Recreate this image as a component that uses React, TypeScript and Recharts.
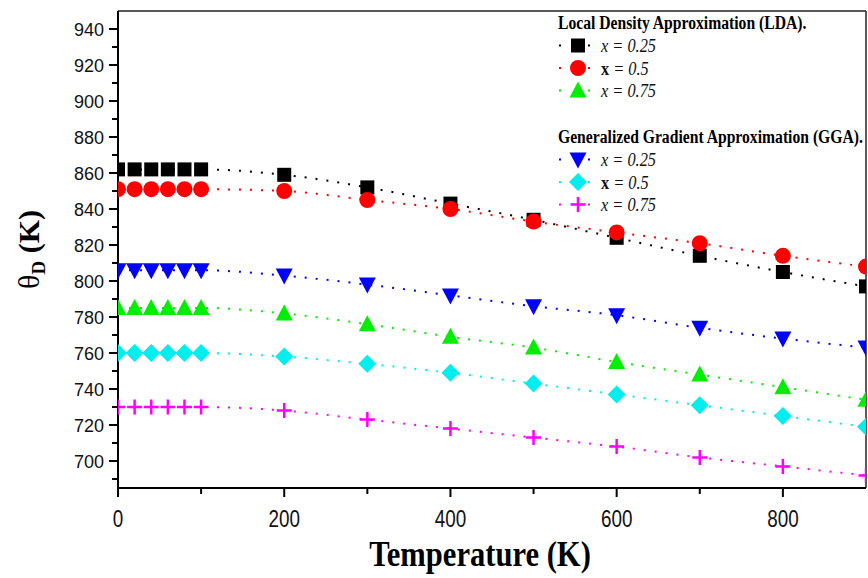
import { Line, LineChart, ReferenceLine, XAxis, YAxis } from "recharts";

const temperature = [0, 20, 40, 60, 80, 100, 200, 300, 400, 500, 600, 700, 800, 900];

// Debye temperature (K), LDA
const ldaX025 = [862, 862, 862, 862, 862, 862, 859, 852, 843, 834, 824, 814, 805, 797];
const ldaX05 = [851, 851, 851, 851, 851, 851, 850, 845, 840, 833, 827, 821, 814, 808];
const ldaX075 = [785, 785, 785, 785, 785, 785, 782, 776, 769, 763, 755, 748, 741, 734];
// Debye temperature (K), GGA
const ggaX025 = [806, 806, 806, 806, 806, 806, 803, 798, 792, 786, 781, 774, 768, 763];
const ggaX05 = [760, 760, 760, 760, 760, 760, 758, 754, 749, 743, 737, 731, 725, 719];
const ggaX075 = [730, 730, 730, 730, 730, 730, 728, 723, 718, 713, 708, 702, 697, 692];

const xMajorTicks = [0, 200, 400, 600, 800];
const xMinorTicks = [100, 300, 500, 700];
const yMajorTicks = [700, 720, 740, 760, 780, 800, 820, 840, 860, 880, 900, 920, 940];
const yMinorTicks = [690, 710, 730, 750, 770, 790, 810, 830, 850, 870, 890, 910, 930];

const SERIF = '"Liberation Serif", "Times New Roman", serif';
const SANS = '"Liberation Sans", Arial, sans-serif';

type Kind = "square" | "circle" | "triangleUp" | "triangleDown" | "diamond" | "plus";

const series: { key: string; values: number[]; color: string; kind: Kind }[] = [
    { key: "lda025", values: ldaX025, color: "#000000", kind: "square" },
    { key: "lda05", values: ldaX05, color: "#ff0000", kind: "circle" },
    { key: "lda075", values: ldaX075, color: "#00ee00", kind: "triangleUp" },
    { key: "gga025", values: ggaX025, color: "#0000ff", kind: "triangleDown" },
    { key: "gga05", values: ggaX05, color: "#00eeee", kind: "diamond" },
    { key: "gga075", values: ggaX075, color: "#ff00ff", kind: "plus" },
];

const data = temperature.map((t, i) => {
    const row: Record<string, number> = { t };
    series.forEach((s) => (row[s.key] = s.values[i]));
    return row;
});

const xTicks = [...xMajorTicks, ...xMinorTicks].sort((a, b) => a - b);
const yTicks = [...yMajorTicks, ...yMinorTicks].sort((a, b) => a - b);

function Marker({ cx, cy, kind, color }: { cx: number; cy: number; kind: Kind; color: string }) {
    switch (kind) {
        case "square":
            return <rect x={cx - 7} y={cy - 7} width={14} height={14} fill={color} />;
        case "circle":
            return <circle cx={cx} cy={cy} r={8} fill={color} />;
        case "triangleUp":
            return <polygon points={`${cx},${cy - 9} ${cx + 8.5},${cy + 7} ${cx - 8.5},${cy + 7}`} fill={color} />;
        case "triangleDown":
            return <polygon points={`${cx - 8.5},${cy - 7} ${cx + 8.5},${cy - 7} ${cx},${cy + 9}`} fill={color} />;
        case "diamond":
            return <polygon points={`${cx},${cy - 9} ${cx + 9},${cy} ${cx},${cy + 9} ${cx - 9},${cy}`} fill={color} />;
        default:
            return (
                <path
                    d={`M${cx - 7.5},${cy}H${cx + 7.5}M${cx},${cy - 7.5}V${cy + 7.5}`}
                    stroke={color}
                    strokeWidth={2.5}
                    fill="none"
                />
            );
    }
}

function XTick({ x, y, payload }: any) {
    const major = payload.value % 200 === 0;
    return (
        <g>
            <line x1={x} y1={y} x2={x} y2={y + (major ? 9 : 6)} stroke="#000" strokeWidth={2} />
            {major && (
                <text
                    transform={`translate(${x},${y + 39}) scale(0.82,1)`}
                    textAnchor="middle"
                    fontSize={23}
                    fontFamily={SANS}
                    fill="#111"
                >
                    {payload.value}
                </text>
            )}
        </g>
    );
}

function YTick({ x, y, payload }: any) {
    const major = payload.value % 20 === 0;
    return (
        <g>
            <line x1={x} y1={y} x2={x - (major ? 9 : 6)} y2={y} stroke="#000" strokeWidth={2} />
            {major && (
                <text x={x - 14} y={y + 6.5} textAnchor="end" fontSize={18} fontFamily={SANS} fill="#111">
                    {payload.value}
                </text>
            )}
        </g>
    );
}

function XTitle({ viewBox }: any) {
    const cx = viewBox.x + viewBox.width / 2 - 12;
    return (
        <text
            transform={`translate(${cx},${viewBox.y + 78}) scale(0.85,1)`}
            textAnchor="middle"
            fontSize={36}
            fontWeight="bold"
            fontFamily={SERIF}
            fill="#000"
        >
            Temperature (K)
        </text>
    );
}

function YTitle({ viewBox }: any) {
    const cy = viewBox.y + viewBox.height / 2;
    return (
        <text
            transform={`translate(39,${cy}) rotate(-90)`}
            textAnchor="middle"
            fontSize={30}
            fontWeight="bold"
            fontFamily={SERIF}
            fill="#000"
        >
            <tspan fontWeight="normal">θ</tspan>
            <tspan fontSize={19} dy={6}>D</tspan>
            <tspan dy={-6}> (K)</tspan>
        </text>
    );
}

const legendGroups = [
    { title: "Local Density Approximation (LDA).", top: 23, items: series.slice(0, 3) },
    { title: "Generalized Gradient Approximation (GGA).", top: 137, items: series.slice(3) },
];
const legendLabels = ["0.25", "0.5", "0.75"];

function LegendBox() {
    return (
        <svg width={868} height={578} style={{ position: "absolute", left: 0, top: 0, pointerEvents: "none" }}>
            {legendGroups.map((g) => (
                <g key={g.title}>
                    <text
                        transform={`translate(558,${g.top + 6}) scale(0.87,1)`}
                        fontSize={18}
                        fontWeight="bold"
                        fontFamily={SERIF}
                        fill="#000"
                    >
                        {g.title}
                    </text>
                    {g.items.map((s, i) => {
                        const cy = g.top + 22.5 * (i + 1);
                        return (
                            <g key={s.key}>
                                <line
                                    x1={559}
                                    x2={591}
                                    y1={cy}
                                    y2={cy}
                                    stroke={s.color}
                                    strokeWidth={2}
                                    strokeDasharray="2 27"
                                />
                                <Marker cx={578} cy={cy} kind={s.kind} color={s.color} />
                                <text
                                    transform={`translate(601,${cy + 6.5}) scale(0.86,1)`}
                                    fontSize={19}
                                    fontStyle="italic"
                                    fontFamily={SERIF}
                                    fill="#111"
                                >
                                    {i === 1 ? (
                                        <tspan fontStyle="normal" fontWeight="bold">
                                            x
                                        </tspan>
                                    ) : (
                                        <tspan>x</tspan>
                                    )}
                                    <tspan> = {legendLabels[i]}</tspan>
                                </text>
                            </g>
                        );
                    })}
                </g>
            ))}
        </svg>
    );
}

export default function App() {
    return (
        <div style={{ position: "absolute", left: 0, top: 0, width: 868, height: 578, background: "#fff" }}>
            <LineChart width={868} height={578} data={data} margin={{ top: 11, right: 2, bottom: 0, left: 0 }}>
                <XAxis
                    type="number"
                    dataKey="t"
                    domain={[0, 900]}
                    ticks={xTicks}
                    interval={0}
                    tick={XTick}
                    tickLine={false}
                    tickSize={0}
                    tickMargin={0}
                    height={90}
                    axisLine={{ stroke: "#000", strokeWidth: 2 }}
                    allowDataOverflow
                    label={XTitle}
                />
                <YAxis
                    type="number"
                    domain={[685, 950]}
                    ticks={yTicks}
                    interval={0}
                    tick={YTick}
                    tickLine={false}
                    tickSize={0}
                    tickMargin={0}
                    width={118}
                    axisLine={{ stroke: "#000", strokeWidth: 2 }}
                    allowDataOverflow
                    label={YTitle}
                />
                <ReferenceLine y={950} stroke="#222" strokeWidth={1.5} />
                <ReferenceLine x={900} stroke="#222" strokeWidth={1.5} />
                {series.map((s) => (
                    <Line
                        key={s.key}
                        type="monotone"
                        dataKey={s.key}
                        stroke={s.color}
                        strokeWidth={2}
                        strokeDasharray="2 9"
                        activeDot={false}
                        isAnimationActive={false}
                        dot={(p: any) => (
                            <Marker key={`${s.key}-${p.index}`} cx={p.cx} cy={p.cy} kind={s.kind} color={s.color} />
                        )}
                    />
                ))}
            </LineChart>
            <LegendBox />
        </div>
    );
}
